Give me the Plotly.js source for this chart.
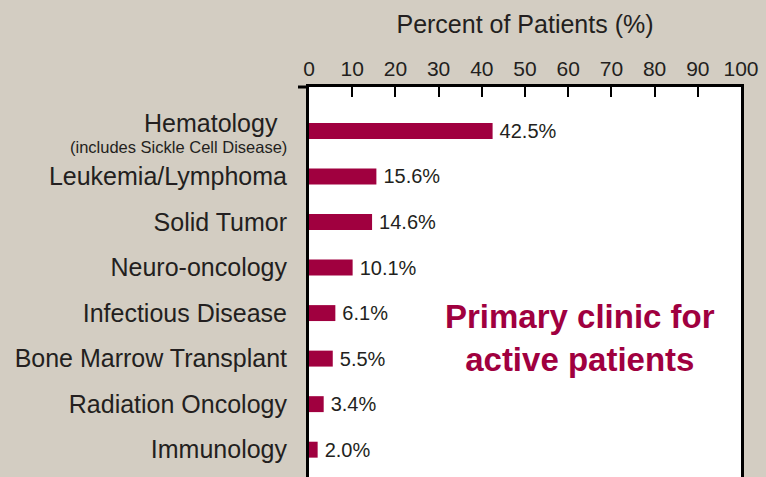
<!DOCTYPE html>
<html>
<head>
<meta charset="utf-8">
<script src="https://cdn.plot.ly/plotly-3.0.1.min.js"></script>
<style>
html,body{margin:0;padding:0;background:#d3cdc2;}
#chart{width:766px;height:477px;}
</style>
</head>
<body>
<div id="chart"></div>
<script>
// Data
const categories = [
  "Hematology",
  "Leukemia/Lymphoma",
  "Solid Tumor",
  "Neuro-oncology",
  "Infectious Disease",
  "Bone Marrow Transplant",
  "Radiation Oncology",
  "Immunology"
];
const tickLabels = [
  "",
  "Leukemia/Lymphoma",
  "Solid Tumor",
  "Neuro-oncology",
  "Infectious Disease",
  "Bone Marrow Transplant",
  "Radiation Oncology",
  "Immunology"
];
const hemaMain = "Hematology";
const hemaSub = "(includes Sickle Cell Disease)";
const percents = [42.5, 15.6, 14.6, 10.1, 6.1, 5.5, 3.4, 2.0];
const xTicks = [0, 10, 20, 30, 40, 50, 60, 70, 80, 90, 100];
const noteText = "Primary clinic for<br>active patients";
const axisTitle = "Percent of Patients (%)";

const crimson = "#a0003f";
const ink = "#231f20";
const FONT = "Liberation Sans, Arial, sans-serif";

const T = 86.5, H = 390.5, L = 308.5, W = 433;
const py = p => 1 - (p - T) / H;
const px = p => (p - L) / W;

const trace = {
  type: "bar",
  orientation: "h",
  x: percents,
  y: categories,
  marker: {color: crimson, line: {width: 0}},
  width: 0.35,
  text: percents.map(v => "\u2009" + v.toFixed(1) + "%"),
  textposition: "outside",
  constraintext: "none",
  cliponaxis: false,
  textfont: {family: FONT, size: 20, color: ink},
  hoverinfo: "x+y"
};

const layout = {
  width: 766,
  height: 477,
  margin: {l: L, r: 766 - L - W, t: T, b: 0, pad: 0},
  paper_bgcolor: "#d3cdc2",
  plot_bgcolor: "#ffffff",
  showlegend: false,
  font: {family: FONT, color: ink},
  title: {
    text: axisTitle,
    font: {family: FONT, size: 25, color: ink},
    xref: "paper", x: 0.5, xanchor: "center",
    yref: "container", y: 1 - 24/477, yanchor: "middle"
  },
  xaxis: {
    side: "top",
    range: [0, 100],
    tickvals: xTicks,
    ticktext: xTicks.map(String),
    ticks: "inside",
    ticklen: 10,
    tickwidth: 2,
    tickcolor: "#000",
    showline: true,
    linewidth: 3,
    linecolor: "#000",
    showgrid: false,
    zeroline: false,
    tickfont: {family: FONT, size: 21, color: ink},
    fixedrange: true
  },
  yaxis: {
    type: "category",
    categoryorder: "array",
    categoryarray: categories,
    tickvals: categories,
    ticktext: tickLabels,
    range: [7.6, -0.965],
    showline: true,
    mirror: true,
    linewidth: 3,
    linecolor: "#000",
    ticks: "",
    showgrid: false,
    zeroline: false,
    ticklabelstandoff: 14,
    tickfont: {family: FONT, size: 25, color: ink},
    fixedrange: true
  },
  annotations: [
    {
      text: "",
      xref: "paper", yref: "paper",
      x: 0, y: 1,
      showarrow: true, arrowhead: 0, arrowwidth: 3, arrowcolor: "#000",
      standoff: 0, startstandoff: 0,
      ax: -12.5, ay: 0
    },
    {
      text: hemaMain,
      xref: "paper", yref: "paper",
      x: px(279), y: py(123),
      xanchor: "right", yanchor: "middle",
      showarrow: false,
      font: {family: FONT, size: 25, color: ink}
    },
    {
      text: hemaSub,
      xref: "paper", yref: "paper",
      x: px(288), y: py(147),
      xanchor: "right", yanchor: "middle",
      showarrow: false,
      font: {family: FONT, size: 16.5, color: ink}
    },
    {
      text: "<b>" + noteText + "</b>",
      xref: "paper", yref: "paper",
      x: px(580), y: py(338),
      xanchor: "center", yanchor: "middle",
      showarrow: false,
      font: {family: FONT, size: 33, color: crimson},
      align: "center"
    }
  ]
};

Plotly.newPlot("chart", [trace], layout, {displayModeBar: false, staticPlot: true});
</script>
</body>
</html>
